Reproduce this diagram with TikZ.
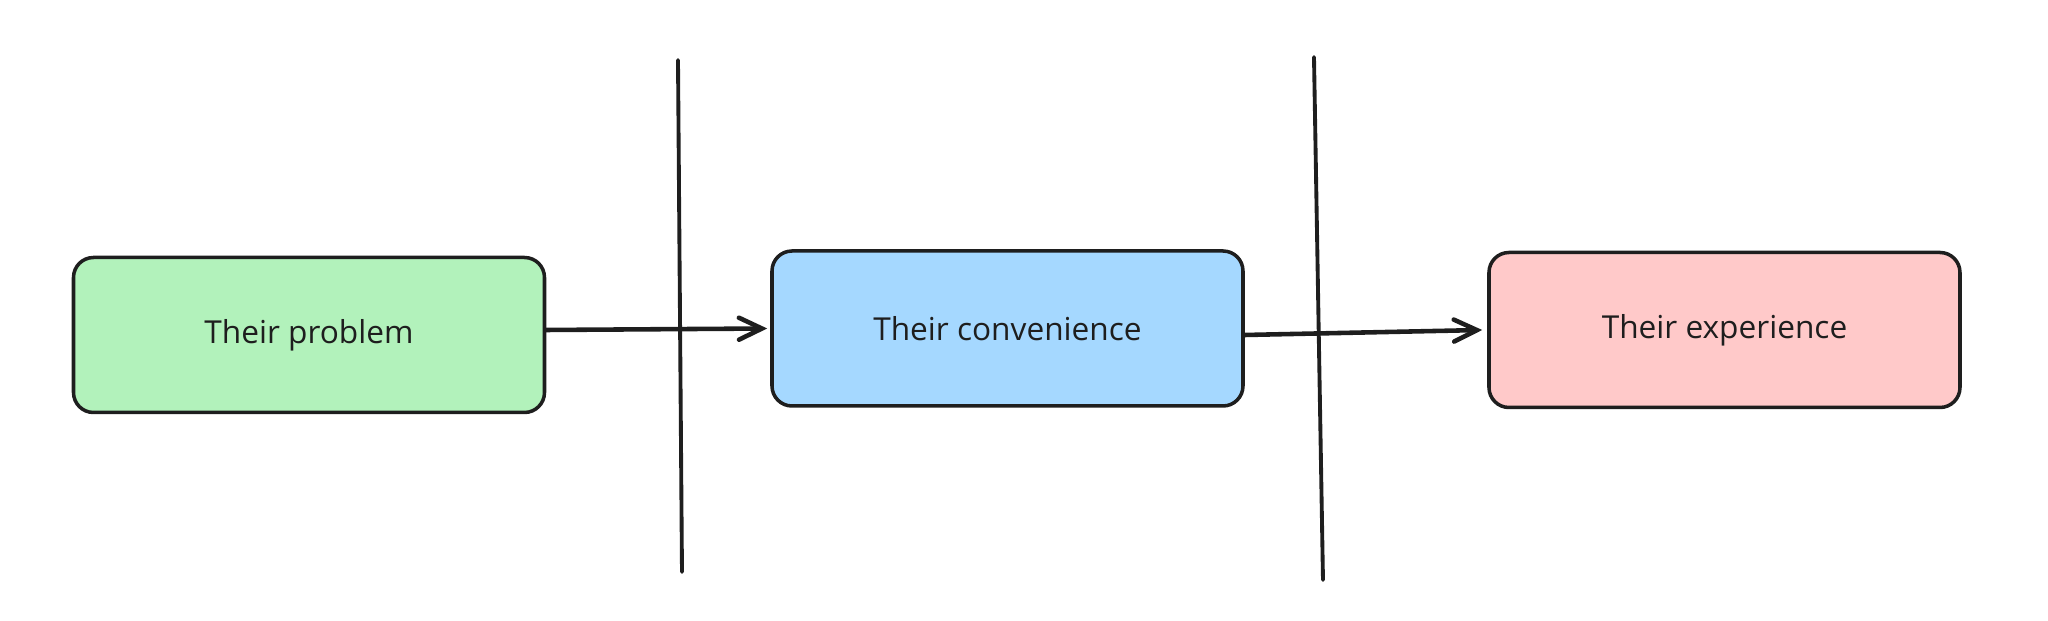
\documentclass[tikz,border=0pt]{standalone}
\usepackage{fontspec}
\setmainfont{Open Sans}
\usepackage{tikz}
\usetikzlibrary{positioning,arrows.meta}
\definecolor{ink}{HTML}{1E1E1E}
\definecolor{probfill}{HTML}{B2F2BB}
\definecolor{convfill}{HTML}{A5D8FF}
\definecolor{expfill}{HTML}{FFC9C9}
\tikzstyle{stage}=[draw=ink, text=ink, rounded corners=0.2cm, minimum height = 1.55cm, minimum width=4.71cm, line width=1pt, font=\fontsize{9}{11}\selectfont]
\tikzstyle{wall}=[draw=ink, line width=1.1pt, line cap=round]

\begin{document}
\begin{tikzpicture}[node distance=7cm,auto,>={Straight Barb[length=2.3mm,width=2.2mm,line cap=round]}]
\useasboundingbox (-3.09,-2.86) rectangle (17.39,3.35);
  \node[stage, fill=probfill] at (0,0) (prob) {Their problem};
  \node[stage, fill=convfill, right of = prob, node distance = 6.985cm, yshift = 0.065cm] (conv) {Their convenience};
  \node[stage, fill=expfill, right of = conv, node distance = 7.17cm, yshift = -0.015cm] (exp) {Their experience};

% the two dividers
\coordinate (wall1top) at (3.69,2.75);
\coordinate (wall1bot) at (3.73,-2.37);
\coordinate (wall2top) at (10.05,2.78);
\coordinate (wall2bot) at (10.14,-2.45);
\draw[wall] (wall1top) -- (wall1bot);
\draw[wall] (wall2top) -- (wall2bot);

\draw[->,draw=ink,line width = 1.3pt, line cap=round] ([yshift=0.05cm]prob.east) -- ([xshift=-0.03cm]conv.west);
\draw[->,draw=ink,line width = 1.3pt, line cap=round] ([yshift=-0.065cm]conv.east) -- ([xshift=-0.05cm]exp.west);
\end{tikzpicture}
\end{document}
